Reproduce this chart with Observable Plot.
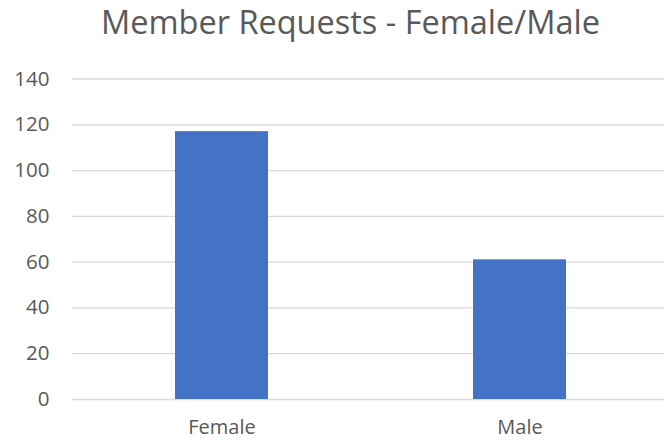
<!DOCTYPE html>
<html><head><meta charset="utf-8">
<script src="https://cdn.jsdelivr.net/npm/d3@7"></script>
<script src="https://cdn.jsdelivr.net/npm/@observablehq/plot@0.6"></script>
<style>
body{margin:0;background:#fff;font-family:"Open Sans",sans-serif;}
#wrap{width:664px;height:441px;overflow:hidden;}
#title{box-sizing:border-box;height:60px;padding-left:37px;line-height:44.3px;text-align:center;font-size:32.5px;color:#595959;white-space:nowrap;}
svg{overflow:hidden;display:block;}
</style></head>
<body><div id="wrap"><div id="title">Member Requests - Female/Male</div><div id="chart"></div></div>
<script>
const categories = ["Female", "Male"];
const values = [117, 61];
const yTicks = [0, 20, 40, 60, 80, 100, 120, 140];
const data = categories.map((c, i) => ({category: c, value: values[i]}));

const chart = Plot.plot({
  width: 664,
  height: 381,
  marginTop: 18.5,
  marginBottom: 42,
  marginLeft: 72,
  marginRight: 0,
  style: {fontFamily: "Open Sans, sans-serif", fontSize: "20px", color: "#595959", background: "#fff"},
  x: {domain: categories, range: [72, 669], paddingInner: 0.688, paddingOuter: 0.344, align: 0.5, label: null},
  y: {domain: [0, 140], ticks: yTicks, label: null},
  marks: [
    Plot.ruleY(yTicks, {stroke: "#d9d9d9", strokeWidth: 1.3}),
    Plot.barY(data, {x: "category", y: "value", fill: "#4472C4"}),
    Plot.axisY({ticks: yTicks, tickSize: 0, tickPadding: 23, fontSize: 20.5, label: null}),
    Plot.axisX({tickSize: 0, tickPadding: 20, fontSize: 20, label: null})
  ]
});
document.getElementById("chart").appendChild(chart);
</script></body></html>
